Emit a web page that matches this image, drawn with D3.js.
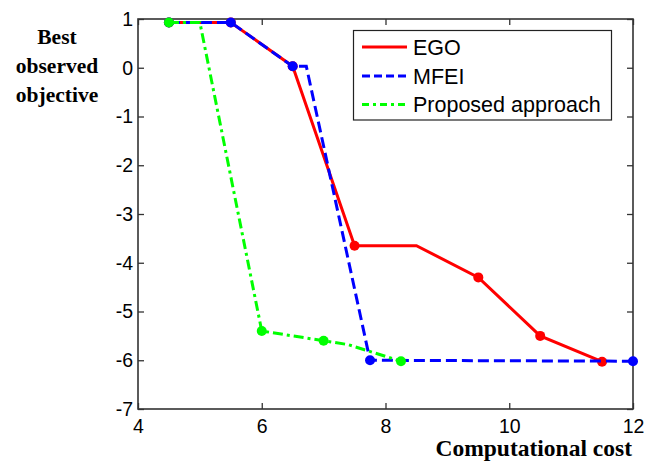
<!DOCTYPE html>
<html>
<head>
<meta charset="utf-8">
<script src="https://cdn.jsdelivr.net/npm/d3@7"></script>
<style>
  html, body { margin: 0; padding: 0; background: #fff; }
  svg { display: block; }
</style>
</head>
<body>
<script>
// ---- data ----
const seriesNames = ["EGO", "MFEI", "Proposed approach"];
const egoX = [4.5, 5.5, 6.5, 7.5, 8.5, 9.5, 10.5, 11.5];
const egoY = [0.93, 0.93, 0.03, -3.65, -3.65, -4.3, -5.5, -6.03];
const egoMarked = [1, 1, 1, 1, 0, 1, 1, 1];
const mfeiX = [4.5, 5.5, 6.5, 6.72, 7.75, 12];
const mfeiY = [0.93, 0.93, 0.03, 0.03, -6.0, -6.02];
const mfeiMarked = [1, 1, 1, 0, 1, 1];
const propX = [4.5, 5.0, 6.0, 7.0, 7.4, 8.25];
const propY = [0.93, 0.93, -5.4, -5.6, -5.68, -6.02];
const propMarked = [1, 0, 1, 1, 0, 1];
const xTicks = [4, 6, 8, 10, 12];
const yTicks = [1, 0, -1, -2, -3, -4, -5, -6, -7];

const W = 656, H = 465;
const m = { left: 138, top: 19, right: 23, bottom: 56 };
const iw = W - m.left - m.right, ih = H - m.top - m.bottom;

const svg = d3.select("body").append("svg").attr("width", W).attr("height", H);
const x = d3.scaleLinear().domain([4, 12]).range([0, iw]);
const y = d3.scaleLinear().domain([-7, 1]).range([ih, 0]);
const g = svg.append("g").attr("transform", `translate(${m.left},${m.top})`);

const axisColor = "#333";
const tickFont = "Liberation Sans, Arial, sans-serif";
const fmt = d => String(d); // plain hyphen-minus as in the original

function styleAxis(sel) {
  sel.select(".domain").remove();
  sel.selectAll(".tick line").attr("stroke", axisColor).attr("stroke-width", 1.3);
  sel.selectAll(".tick text").attr("fill", "#000").style("font-family", tickFont).style("font-size", "19.5px");
}

g.append("g").attr("transform", `translate(0,${ih})`)
  .call(d3.axisBottom(x).tickValues(xTicks).tickFormat(fmt).tickSizeInner(-6).tickSizeOuter(0).tickPadding(10))
  .call(styleAxis);
g.append("g")
  .call(d3.axisTop(x).tickValues(xTicks).tickFormat("").tickSizeInner(-6).tickSizeOuter(0))
  .call(styleAxis);
g.append("g")
  .call(d3.axisLeft(y).tickValues(yTicks).tickFormat(fmt).tickSizeInner(-6).tickSizeOuter(0).tickPadding(5))
  .call(styleAxis);
g.append("g").attr("transform", `translate(${iw},0)`)
  .call(d3.axisRight(y).tickValues(yTicks).tickFormat("").tickSizeInner(-6).tickSizeOuter(0))
  .call(styleAxis);

g.append("rect").attr("x", 0).attr("y", 0).attr("width", iw).attr("height", ih)
  .attr("fill", "none").attr("stroke", axisColor).attr("stroke-width", 1.6);

// ---- series ----
const series = [
  { name: seriesNames[0], xs: egoX, ys: egoY, mk: egoMarked, color: "#ff0000", dash: null, legendDash: null },
  { name: seriesNames[1], xs: mfeiX, ys: mfeiY, mk: mfeiMarked, color: "#0000ff", dash: "11,5", legendDash: "8,4" },
  { name: seriesNames[2], xs: propX, ys: propY, mk: propMarked, color: "#00ff00", dash: "10,4,3,4", legendDash: "7,4,3,4" }
];

const line = d3.line().x(d => x(d[0])).y(d => y(d[1]));
series.forEach(s => {
  const pts = s.xs.map((v, i) => [v, s.ys[i], s.mk[i]]);
  g.append("path").datum(pts).attr("d", line)
    .attr("fill", "none").attr("stroke", s.color).attr("stroke-width", 3)
    .attr("stroke-dasharray", s.dash);
  g.selectAll(null).data(pts.filter(p => p[2])).enter().append("circle")
    .attr("cx", d => x(d[0])).attr("cy", d => y(d[1])).attr("r", 5)
    .attr("fill", s.color);
});

// ---- legend ----
const lg = svg.append("g");
lg.append("rect").attr("x", 353.5).attr("y", 30.5).attr("width", 258).attr("height", 89.5)
  .attr("fill", "#fff").attr("stroke", "#222").attr("stroke-width", 1.2);
const legendY = [47, 76, 104.5];
series.forEach((s, i) => {
  lg.append("line").attr("x1", 362).attr("x2", 407).attr("y1", legendY[i]).attr("y2", legendY[i])
    .attr("stroke", s.color).attr("stroke-width", 3).attr("stroke-dasharray", s.legendDash);
  lg.append("text").attr("x", 413).attr("y", legendY[i]).attr("dy", "0.36em")
    .style("font-family", tickFont).style("font-size", "21.5px").attr("fill", "#000").text(s.name);
});

// ---- axis titles ----
const titleFont = "Liberation Serif, Times New Roman, serif";
svg.append("text").attr("x", 632).attr("y", 456).attr("text-anchor", "end")
  .style("font-family", titleFont).style("font-weight", "bold").style("font-size", "23.5px")
  .text("Computational cost");
const yl = svg.append("text").attr("text-anchor", "middle")
  .style("font-family", titleFont).style("font-weight", "bold").style("font-size", "21.5px");
["Best", "observed", "objective"].forEach((t, i) => {
  yl.append("tspan").attr("x", 57).attr("y", 43.5 + i * 29).text(t);
});
</script>
</body>
</html>
